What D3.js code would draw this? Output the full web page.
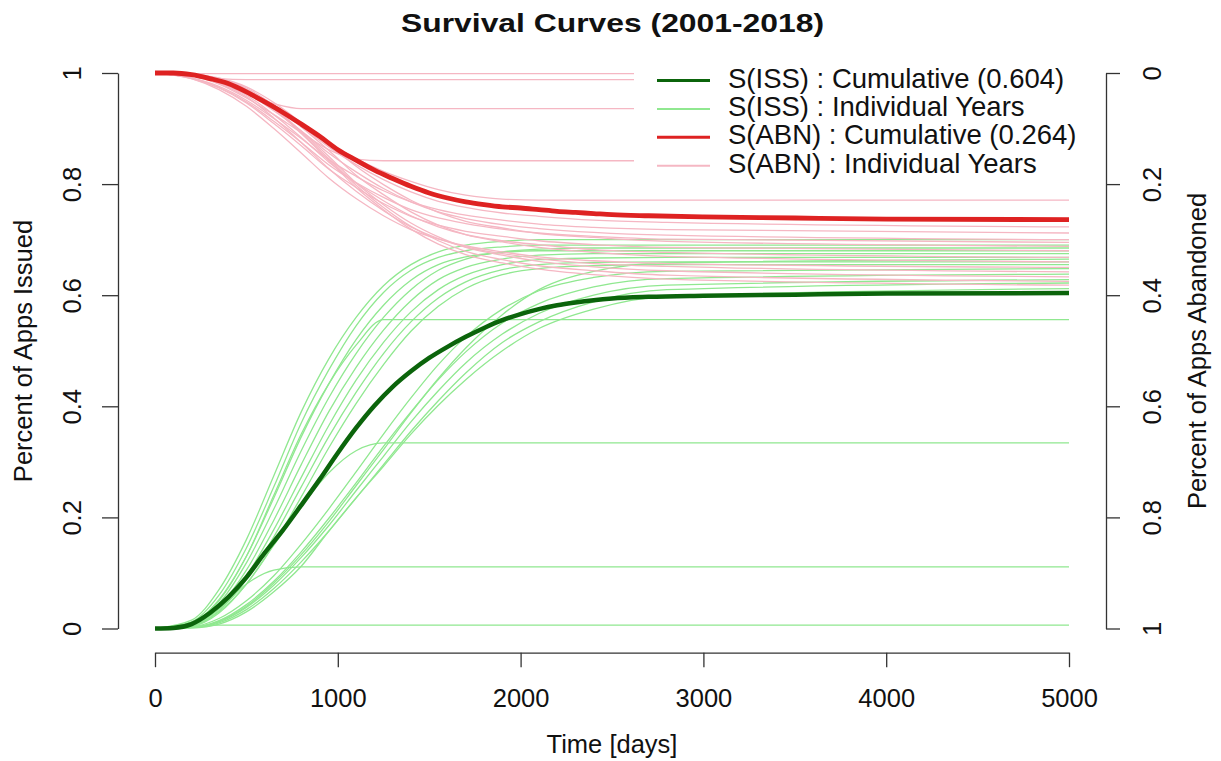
<!DOCTYPE html>
<html>
<head>
<meta charset="utf-8">
<script src="https://cdn.jsdelivr.net/npm/d3@7"></script>
<style>
  body { margin: 0; background: #fff; }
  text { font-family: "Liberation Sans", Arial, sans-serif; fill: #111; }
</style>
</head>
<body>
<div id="chart"></div>
<script>
// ---- data ----
const years = [2001, 2002, 2003, 2004, 2005, 2006, 2007, 2008, 2009,
               2010, 2011, 2012, 2013, 2014, 2015, 2016, 2017, 2018];

// day grid for the cumulative curves
const cumDays = [0, 100, 200, 300, 400, 500, 600, 700, 800, 900, 1000, 1100, 1200, 1300,
                 1400, 1500, 1600, 1700, 1800, 1900, 2000, 2100, 2200, 2300, 2400, 2500,
                 2700, 3000, 3500, 4000, 5000];
const issCumulative = [0, .001, .008, .028, .056, .092, .136, .177, .222, .268, .316, .361, .401, .435,
                       .463, .487, .507, .525, .541, .555, .566, .575, .582, .587, .591, .594,
                       .597, .599, .601, .603, .604];
const abnCumulative = [1, 1, .997, .99, .981, .966, .948, .929, .908, .886, .862, .843, .825, .81,
                       .796, .784, .775, .768, .763, .759, .757, .754, .751, .749, .747, .745,
                       .743, .741, .739, .737, .736];

// day grid for the individual years
const yearDays = [0, 200, 350, 500, 650, 800, 950, 1100, 1250, 1400, 1550, 1700, 1900, 2100, 2400, 2800, 5000];
const issByYear = [
  [0, .015, .07, .16, .275, .39, .485, .56, .617, .655, .678, .69, .697, .70, .70, .70, .70],
  [0, .003, .018, .05, .095, .152, .215, .282, .35, .415, .475, .525, .575, .608, .632, .643, .648],
  [0, .012, .06, .145, .255, .37, .465, .545, .605, .645, .668, .68, .687, .69, .69, .69, .69],
  [0, .002, .014, .043, .085, .138, .198, .262, .328, .39, .448, .498, .55, .585, .615, .63, .638],
  [0, .01, .052, .13, .235, .345, .44, .52, .582, .627, .655, .669, .677, .68, .68, .68, .68],
  [0, .008, .045, .118, .215, .32, .415, .495, .56, .61, .645, .665, .678, .683, .685, .685, .685],
  [0, .002, .012, .038, .078, .128, .185, .248, .31, .372, .428, .478, .53, .567, .6, .618, .628],
  [0, .007, .04, .105, .195, .295, .39, .47, .537, .59, .628, .65, .665, .672, .675, .675, .675],
  [0, .001, .01, .034, .072, .12, .175, .235, .295, .355, .41, .46, .515, .552, .588, .61, .622],
  [0, .006, .036, .095, .178, .272, .365, .447, .515, .57, .61, .636, .655, .664, .667, .668, .668],
  [0, .005, .032, .088, .165, .255, .345, .425, .495, .552, .595, .624, .646, .655, .659, .66, .66],
  [0, .001, .008, .03, .066, .112, .175, .235, .292, .35, .402, .448, .50, .54, .575, .598, .612],
  [0, .004, .028, .08, .152, .237, .325, .405, .475, .535, .58, .612, .637, .648, .653, .655, .655],
  [0, .002, .013, .04, .082, .133, .192, .257, .322, .388, .45, .505, .565, .61, .643, .658, .665],
  [0, .008, .05, .13, .24, .35, .44, .51, .556, .556, .556, .556, .556, .556, .556, .556, .556],
  [0, .004, .03, .08, .15, .22, .28, .32, .334, .334, .334, .334, .334, .334, .334, .334, .334],
  [0, .006, .035, .08, .105, .111, .111, .111, .111, .111, .111, .111, .111, .111, .111, .111, .111],
  [0, .002, .006, .006, .006, .006, .006, .006, .006, .006, .006, .006, .006, .006, .006, .006, .006]
];
const abnByYear = [
  [1, .997, .985, .966, .937, .904, .867, .835, .808, .786, .769, .758, .748, .742, .735, .731, .723],
  [1, .991, .976, .951, .918, .882, .844, .814, .788, .768, .754, .744, .735, .728, .722, .718, .712],
  [1, .997, .984, .964, .932, .896, .856, .822, .792, .768, .75, .738, .727, .72, .713, .708, .70],
  [1, .991, .974, .948, .913, .875, .835, .803, .776, .754, .739, .729, .719, .712, .706, .701, .695],
  [1, .998, .991, .975, .947, .911, .872, .832, .799, .771, .749, .733, .721, .711, .704, .697, .688],
  [1, .99, .973, .946, .909, .869, .827, .794, .765, .742, .726, .715, .706, .698, .691, .686, .68],
  [1, .996, .982, .96, .925, .884, .84, .802, .77, .743, .723, .709, .698, .691, .682, .677, .668],
  [1, .998, .99, .973, .942, .903, .861, .816, .781, .75, .726, .709, .696, .686, .677, .67, .66],
  [1, .99, .97, .94, .9, .856, .811, .774, .743, .718, .701, .689, .678, .669, .662, .657, .65],
  [1, .996, .981, .957, .919, .875, .828, .787, .752, .723, .702, .687, .675, .666, .657, .652, .642],
  [1, .998, .989, .971, .938, .895, .85, .802, .763, .73, .705, .686, .672, .661, .651, .644, .633],
  [1, .998, .989, .97, .936, .893, .846, .798, .758, .724, .698, .679, .664, .653, .644, .636, .625],
  [1, .998, .989, .969, .935, .891, .843, .794, .754, .719, .692, .673, .658, .647, .637, .629, .618],
  [1, .997, .986, .968, .942, .91, .875, .846, .823, .805, .79, .78, .773, .771, .771, .771, .771],
  [1, .995, .98, .955, .925, .893, .862, .845, .842, .842, .842, .842, .842, .842, .842, .842, .842],
  [1, .996, .983, .962, .945, .936, .936, .936, .936, .936, .936, .936, .936, .936, .936, .936, .936],
  [1, .997, .99, .988, .988, .988, .988, .988, .988, .988, .988, .988, .988, .988, .988, .988, .988],
  [1, .999, .999, .999, .999, .999, .999, .999, .999, .999, .999, .999, .999, .999, .999, .999, .999]
];

const xTicks = [0, 1000, 2000, 3000, 4000, 5000];
const yTicks = [0, 0.2, 0.4, 0.6, 0.8, 1];
const legendLabels = ["S(ISS) : Cumulative (0.604)", "S(ISS) : Individual Years",
                      "S(ABN) : Cumulative (0.264)", "S(ABN) : Individual Years"];

// ---- layout ----
const width = 1221, height = 761;
const colIssCum = "#0b640b", colIss = "#90e890", colAbnCum = "#de2222", colAbn = "#f5b7c3";

const svg = d3.select("#chart").append("svg")
    .attr("width", width)
    .attr("height", height);

const x = d3.scaleLinear().domain([0, 5000]).range([155, 1069]);
const y = d3.scaleLinear().domain([0, 1]).range([628.5, 73]);
const yRight = d3.scaleLinear().domain([1, 0]).range([628.5, 73]);

const lineOn = (days) => d3.line()
    .x((d, i) => x(days[i]))
    .y((d) => y(d))
    .curve(d3.curveMonotoneX);

// individual years
svg.append("g")
    .selectAll("path")
    .data(issByYear)
    .join("path")
    .attr("d", lineOn(yearDays))
    .attr("fill", "none")
    .attr("stroke", colIss)
    .attr("stroke-width", 1.3);

svg.append("g")
    .selectAll("path")
    .data(abnByYear)
    .join("path")
    .attr("d", lineOn(yearDays))
    .attr("fill", "none")
    .attr("stroke", colAbn)
    .attr("stroke-width", 1.3);

// cumulative curves
svg.append("path")
    .attr("d", lineOn(cumDays)(abnCumulative))
    .attr("fill", "none")
    .attr("stroke", colAbnCum)
    .attr("stroke-width", 4.8);

svg.append("path")
    .attr("d", lineOn(cumDays)(issCumulative))
    .attr("fill", "none")
    .attr("stroke", colIssCum)
    .attr("stroke-width", 4.5);

// axes, R style
const styleAxis = (g) => {
    g.select(".domain").attr("stroke", "#333").attr("stroke-width", 1.3);
    g.selectAll(".tick line").attr("stroke", "#333").attr("stroke-width", 1.3);
    g.selectAll(".tick text").style("font-size", "25.5px").attr("fill", "#111");
};

svg.append("g")
    .attr("transform", "translate(0,652.7)")
    .call(d3.axisBottom(x).tickValues(xTicks).tickFormat(d3.format("d")).tickSize(14.5).tickSizeOuter(0))
    .call(styleAxis)
    .call((g) => g.selectAll(".tick text").attr("y", 45).attr("dy", "0.35em"));

svg.append("g")
    .attr("transform", "translate(118,0)")
    .call(d3.axisLeft(y).tickValues(yTicks).tickFormat((d) => String(d)).tickSize(16).tickSizeOuter(0))
    .call(styleAxis)
    .call((g) => g.selectAll(".tick text")
        .attr("transform", "rotate(-90)")
        .attr("text-anchor", "middle")
        .attr("x", 0)
        .attr("y", -46)
        .attr("dy", "0.35em"));

svg.append("g")
    .attr("transform", "translate(1106,0)")
    .call(d3.axisRight(yRight).tickValues(yTicks).tickFormat((d) => String(d)).tickSize(14).tickSizeOuter(0))
    .call(styleAxis)
    .call((g) => g.selectAll(".tick text")
        .attr("transform", "rotate(-90)")
        .attr("text-anchor", "middle")
        .attr("x", 0)
        .attr("y", 46)
        .attr("dy", "0.35em"));

// titles
svg.append("text")
    .attr("x", 612.5)
    .attr("y", 32)
    .attr("text-anchor", "middle")
    .attr("font-weight", "bold")
    .attr("textLength", 423)
    .attr("lengthAdjust", "spacingAndGlyphs")
    .style("font-size", "26px")
    .text("Survival Curves (2001-2018)");

svg.append("text")
    .attr("x", 612)
    .attr("y", 744)
    .attr("dy", "0.35em")
    .attr("text-anchor", "middle")
    .style("font-size", "25.5px")
    .text("Time [days]");

svg.append("text")
    .attr("transform", "translate(23,351) rotate(-90)")
    .attr("dy", "0.35em")
    .attr("text-anchor", "middle")
    .style("font-size", "25.5px")
    .text("Percent of Apps Issued");

svg.append("text")
    .attr("transform", "translate(1197,351) rotate(-90)")
    .attr("dy", "0.35em")
    .attr("text-anchor", "middle")
    .style("font-size", "25.5px")
    .text("Percent of Apps Abandoned");

// legend with white background
const legend = svg.append("g");
legend.append("rect")
    .attr("x", 634)
    .attr("y", 58)
    .attr("width", 450)
    .attr("height", 130)
    .attr("fill", "#fff");

const legendColors = [colIssCum, colIss, colAbnCum, colAbn];
const legendWidths = [3, 2, 3, 2];
legendLabels.forEach((label, i) => {
    const ly = 80.5 + i * 28.4;
    legend.append("line")
        .attr("x1", 657).attr("x2", 710)
        .attr("y1", ly).attr("y2", ly)
        .attr("stroke", legendColors[i])
        .attr("stroke-width", legendWidths[i]);
    legend.append("text")
        .attr("x", 728)
        .attr("y", ly + 7)
        .style("font-size", "27.5px")
        .text(label);
});
</script>
</body>
</html>
